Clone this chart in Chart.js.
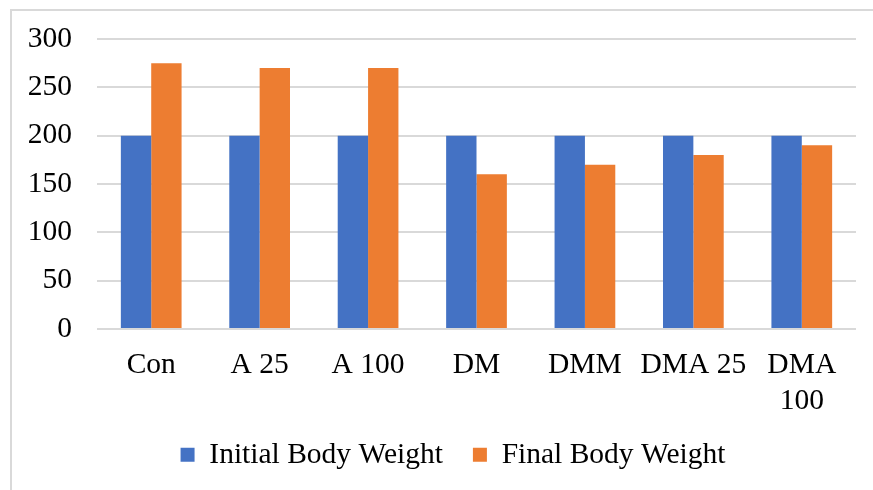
<!DOCTYPE html>
<html>
<head>
<meta charset="utf-8">
<script src="https://cdn.jsdelivr.net/npm/chart.js@4.4.1/dist/chart.umd.min.js"></script>
<style>
  html, body { margin: 0; padding: 0; background: #fff; }
  #wrap { position: relative; width: 873px; height: 490px; overflow: hidden; }
  #frame { position: absolute; left: 10px; top: 9px; width: 900px; height: 520px;
           border-left: 2px solid #d9d9d9; border-top: 2px solid #d9d9d9; }
  canvas { position: absolute; left: 0; top: 0; }
</style>
</head>
<body>
<div id="wrap">
  <div id="frame"></div>
  <canvas id="weightChart" width="873" height="490"></canvas>
</div>
<script>
// Grupper
const groups = ['Con', 'A 25', 'A 100', 'DM', 'DMM', 'DMA 25', ['DMA', '100']];

// Kroppsvikt
const initialWeight = [200, 200, 200, 200, 200, 200, 200];
const finalWeight = [275, 270, 270, 160, 170, 180, 190];

const yTicks = [0, 50, 100, 150, 200, 250, 300];

const serif = "'Liberation Serif', 'Times New Roman', serif";
const fontSize = 29.5;

// Legendens höjd och läge justeras
const legendHeight = 80;
const legendShift = 12;
const legendFix = {
    id: 'legendFix',
    beforeLayout(chart) {
        const legend = chart.legend;
        if (legend && !legend._fixed) {
            const origFit = legend.fit.bind(legend);
            legend.fit = function () {
                origFit();
                this.height = legendHeight;
            };
            legend._fixed = true;
        }
    },
    afterLayout(chart) {
        const legend = chart.legend;
        if (legend) {
            legend.left += legendShift;
            legend.right += legendShift;
        }
    }
};

const ctx = document.getElementById('weightChart').getContext('2d');

const weightChart = new Chart(ctx, {
    type: 'bar',
    data: {
        labels: groups,
        datasets: [{
            label: 'Initial Body Weight',
            data: initialWeight,
            backgroundColor: '#4472C4'
        }, {
            label: 'Final Body Weight',
            data: finalWeight,
            backgroundColor: '#ED7D31'
        }]
    },
    options: {
        responsive: false,
        animation: false,
        layout: {
            padding: { left: 26, right: 17, top: 39, bottom: 0 }
        },
        datasets: {
            bar: {
                categoryPercentage: 0.56,
                barPercentage: 1.0
            }
        },
        scales: {
            x: {
                grid: { display: false, drawTicks: false },
                border: { display: false },
                afterFit: (axis) => {
                    axis.height = 81;
                },
                ticks: {
                    color: '#000',
                    font: { family: serif, size: fontSize },
                    maxRotation: 0,
                    autoSkip: false,
                    padding: 19
                }
            },
            y: {
                min: 0,
                max: 300,
                afterBuildTicks: (axis) => {
                    axis.ticks = yTicks.map(v => ({ value: v }));
                },
                afterFit: (axis) => {
                    axis.width = 97 - 26;
                    axis.paddingTop = 0;
                    axis.paddingBottom = 0;
                },
                grid: { color: '#d9d9d9', lineWidth: 2, drawTicks: false },
                border: { display: false },
                ticks: {
                    color: '#000',
                    font: { family: serif, size: fontSize },
                    padding: 25
                }
            }
        },
        plugins: {
            legend: {
                position: 'bottom',
                labels: {
                    color: '#000',
                    font: { family: serif, size: fontSize },
                    boxWidth: 14,
                    boxHeight: 14,
                    padding: 30
                }
            },
            tooltip: { enabled: false }
        }
    },
    plugins: [legendFix]
});
</script>
</body>
</html>
